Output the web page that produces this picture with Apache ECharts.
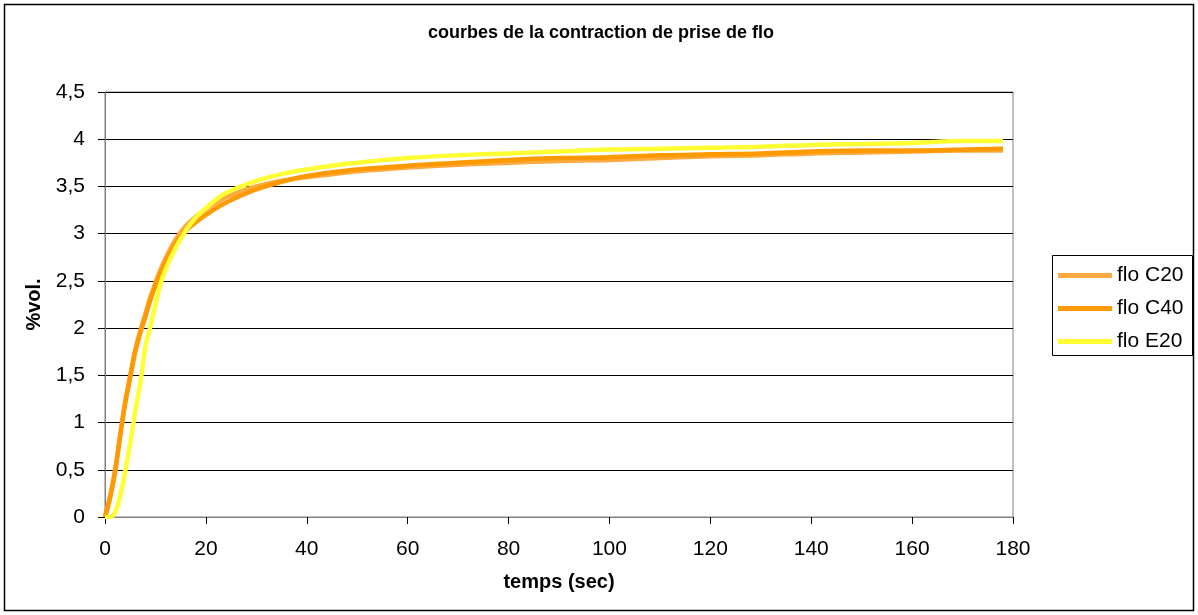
<!DOCTYPE html>
<html><head><meta charset="utf-8">
<script src="https://cdn.jsdelivr.net/npm/echarts@6/dist/echarts.min.js"></script>
<style>html,body{margin:0;padding:0;background:#fff}#c{width:1198px;height:615px}</style>
</head><body><div id="c"></div>
<script>
var times = [0,1,2,3,4,5,6,7,8,9,10,11,12,14,16,18,20,23,26,30,35,40,45,50,60,70,80,90,100,110,120,130,140,150,160,170,178];
var floC20 = [0,0.22,0.5,0.87,1.22,1.5,1.77,1.97,2.15,2.33,2.48,2.62,2.74,2.94,3.08,3.18,3.26,3.36,3.43,3.5,3.56,3.6,3.63,3.66,3.7,3.73,3.75,3.77,3.78,3.8,3.82,3.83,3.85,3.86,3.87,3.88,3.88];
var floC40 = [0,0.2,0.48,0.85,1.2,1.48,1.75,1.95,2.12,2.3,2.45,2.58,2.7,2.9,3.03,3.12,3.2,3.3,3.38,3.47,3.55,3.61,3.65,3.68,3.72,3.75,3.78,3.8,3.81,3.83,3.84,3.85,3.87,3.88,3.88,3.89,3.9];
var floE20 = [0,0,0.05,0.22,0.48,0.78,1.12,1.42,1.8,2.02,2.25,2.47,2.62,2.85,3.03,3.17,3.27,3.4,3.48,3.56,3.63,3.68,3.72,3.75,3.8,3.83,3.85,3.87,3.89,3.9,3.91,3.92,3.94,3.95,3.96,3.98,3.98];
var xTicks = [0,20,40,60,80,100,120,140,160,180];
var yTicks = [0,0.5,1,1.5,2,2.5,3,3.5,4,4.5];
var seriesNames = ['flo C20','flo C40','flo E20'];
var colors = ['#FFAA40','#FF9900','#FFFF33'];

function pairs(v){ return times.map(function(t,i){ return [t, v[i]]; }); }
var chart = echarts.init(document.getElementById('c'));
var font = 'Liberation Sans, Arial, sans-serif';
chart.setOption({
  animation:false,
  backgroundColor:'#fff',
  title:{text:'courbes de la contraction de prise de flo', left:596, top:19, textAlign:'center',
    textStyle:{fontFamily:font, fontSize:18, fontWeight:'bold', color:'#000'}},
  grid:{left:105, right:185, top:92, bottom:98, show:true, borderColor:'#808080', borderWidth:1},
  legend:{orient:'vertical', left:1058, top:265, padding:0, itemWidth:54, itemHeight:5, itemGap:12, icon:'rect',
    data:seriesNames,
    textStyle:{fontFamily:font, fontSize:21, color:'#000', lineHeight:21, padding:[0,0,0,0]}},
  xAxis:{type:'value', min:0, max:180, interval:20, name:'temps (sec)', nameLocation:'middle', nameGap:55,
    nameTextStyle:{fontFamily:font, fontSize:20, fontWeight:'bold', color:'#000'},
    axisLine:{lineStyle:{color:'#808080'}}, axisTick:{show:true, length:7, lineStyle:{color:'#000'}},
    axisLabel:{fontFamily:font, fontSize:21, color:'#000', margin:22},
    splitLine:{show:false}},
  yAxis:{type:'value', min:0, max:4.5, interval:0.5, name:'%vol.', nameLocation:'middle', nameGap:60,
    nameTextStyle:{fontFamily:font, fontSize:20, fontWeight:'bold', color:'#000'},
    axisLine:{show:true, lineStyle:{color:'#808080'}}, axisTick:{show:true, length:7, lineStyle:{color:'#000'}},
    axisLabel:{fontFamily:font, fontSize:21, color:'#000', margin:20,
      formatter:function(v){ return String(v).replace('.',','); }},
    splitLine:{show:true, lineStyle:{color:'#000', width:1}}},
  graphic:[{type:'rect', shape:{x:4.5,y:4.5,width:1189,height:606}, style:{fill:'none', stroke:'#000', lineWidth:1.5}, silent:true},
           {type:'rect', shape:{x:1052.5,y:255.5,width:140,height:100}, style:{fill:'none', stroke:'#000', lineWidth:1}, silent:true}],
  series:seriesNames.map(function(n,i){
    var d=[floC20,floC40,floE20][i];
    return {name:n, type:'line', data:pairs(d), smooth:0.4, showSymbol:false, symbol:'none',
      itemStyle:{color:colors[i]}, lineStyle:{color:colors[i], width:4.5}};
  })
});
</script></body></html>
